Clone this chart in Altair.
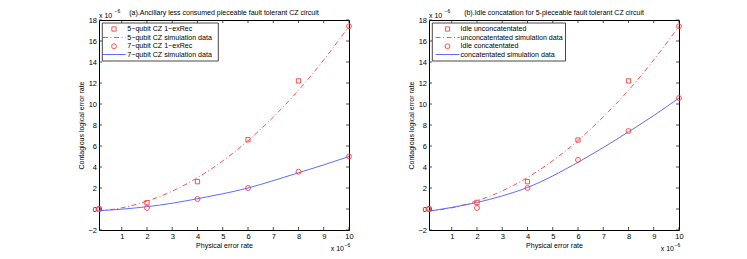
import altair as alt
import pandas as pd

# ---------------- data ----------------
x_ticks = [1, 2, 3, 4, 5, 6, 7, 8, 9, 10]
y_ticks = [-2, 0, 2, 4, 6, 8, 10, 12, 14, 16, 18]

rec_x = [0.1, 2, 4, 6, 8, 10]
five_qubit_rec = [0.0, 0.6, 2.6, 6.6, 12.2, 17.4]
seven_qubit_rec = [0.0, 0.1, 0.95, 2.0, 3.55, 5.0]
idle_unconcat = [0.0, 0.63, 2.6, 6.57, 12.2, 17.4]
idle_concat = [0.0, 0.1, 2.0, 4.67, 7.43, 10.57]

sim_x = [0.1, 1, 2, 3, 4, 5, 6, 7, 8, 9, 10]
five_qubit_sim = [-0.19, 0.11, 0.75, 1.7, 2.98, 4.58, 6.5, 8.75, 11.3, 14.2, 17.4]
seven_qubit_sim = [-0.15, -0.02, 0.22, 0.55, 0.98, 1.45, 2.0, 2.7, 3.45, 4.2, 5.0]
unconcat_sim = [-0.19, 0.11, 0.78, 1.72, 3.0, 4.6, 6.52, 8.77, 11.3, 14.2, 17.4]
concat_sim = [-0.2, 0.15, 0.62, 1.25, 2.05, 3.15, 4.45, 5.85, 7.35, 8.9, 10.57]

title_a = "(a).Ancillary less consumed pieceable fault tolerant CZ circuit"
title_b = "(b).Idle concatation for 5-pieceable fault tolerant CZ circuit"
legend_a = ["5\u2212qubit CZ 1\u2212exRec", "5\u2212qubit CZ simulation data",
            "7\u2212qubit CZ 1\u2212exRec", "7\u2212qubit CZ simulation data"]
legend_b = ["Idle unconcatentated", "unconcatentated simulation data",
            "Idle concatentated", "concatentated simulation data"]
x_title = "Physical error rate"
y_title = "Contagious logical error rate"
exp_base = "x 10"
exp_power = "\u22126"

# ---------------- style ----------------
W, H = 250, 210
FONT = "Liberation Sans"
RED = "#ff3b3b"
BLUE = "#4a5cff"
DASHDOT = [5, 2.5, 1, 2.5]


def panel(title, sq_vals, circ_vals, red_curve, blue_curve, labels, lg):
    xs = alt.Scale(domain=[0.1, 10], nice=False, zero=False)
    ys = alt.Scale(domain=[-2, 18], nice=False, zero=False)
    xenc = alt.X("x:Q", scale=xs,
                 axis=alt.Axis(values=x_ticks, title=x_title, labelPadding=2.5,
                               titlePadding=1.5, labelFlush=False))
    yenc = alt.Y("y:Q", scale=ys,
                 axis=alt.Axis(values=y_ticks, title=y_title, labelPadding=2.5,
                               titlePadding=3))

    sq_df = pd.DataFrame({"x": rec_x, "y": sq_vals})
    ci_df = pd.DataFrame({"x": rec_x, "y": circ_vals})
    red_df = pd.DataFrame({"x": sim_x, "y": red_curve})
    blue_df = pd.DataFrame({"x": sim_x, "y": blue_curve})

    layers = []
    layers.append(alt.Chart(red_df).mark_line(color=RED, strokeDash=DASHDOT, strokeWidth=0.9,
                                              interpolate="natural").encode(x=xenc, y=yenc))
    layers.append(alt.Chart(blue_df).mark_line(color=BLUE, strokeWidth=0.9,
                                               interpolate="natural").encode(x=xenc, y=yenc))
    layers.append(alt.Chart(sq_df).transform_filter("datum.x < 10").mark_point(
        shape="square", size=18, filled=False, color=RED, strokeWidth=0.9, opacity=1
    ).encode(x=xenc, y=yenc))
    layers.append(alt.Chart(sq_df).transform_filter("datum.x >= 10").mark_point(
        shape="circle", size=24, filled=False, color=RED, strokeWidth=0.9, opacity=1
    ).encode(x=xenc, y=yenc))
    layers.append(alt.Chart(ci_df).mark_point(
        shape="circle", size=24, filled=False, color=RED, strokeWidth=0.9, opacity=1
    ).encode(x=xenc, y=yenc))

    # inward ticks on all four sides
    xt = pd.DataFrame({"x": x_ticks})
    yt = pd.DataFrame({"y": y_ticks})
    tk = dict(color="#222", strokeWidth=0.8)
    layers.append(alt.Chart(xt).mark_rule(**tk).encode(x=xenc, y=alt.value(0), y2=alt.value(3)))
    layers.append(alt.Chart(xt).mark_rule(**tk).encode(x=xenc, y=alt.value(H - 3), y2=alt.value(H)))
    layers.append(alt.Chart(yt).mark_rule(**tk).encode(y=yenc, x=alt.value(0), x2=alt.value(3)))
    layers.append(alt.Chart(yt).mark_rule(**tk).encode(y=yenc, x=alt.value(W - 3), x2=alt.value(W)))

    # title and exponent labels
    one = pd.DataFrame({"t": [title]})
    layers.append(alt.Chart(one).mark_text(fontSize=7, baseline="middle", align="center",
                                           font=FONT, color="black").encode(
        text="t:N", x=alt.value(W / 2), y=alt.value(-7.5)))
    eb = pd.DataFrame({"t": [exp_base]})
    ep = pd.DataFrame({"t": [exp_power]})
    layers.append(alt.Chart(eb).mark_text(fontSize=7, align="left", baseline="alphabetic",
                                          font=FONT, color="black").encode(
        text="t:N", x=alt.value(0), y=alt.value(-2.5)))
    layers.append(alt.Chart(ep).mark_text(fontSize=5, align="left", baseline="alphabetic",
                                          font=FONT, color="black").encode(
        text="t:N", x=alt.value(15.5), y=alt.value(-7)))
    layers.append(alt.Chart(eb).mark_text(fontSize=7, align="right", baseline="alphabetic",
                                          font=FONT, color="black").encode(
        text="t:N", x=alt.value(W - 5), y=alt.value(H + 21)))
    layers.append(alt.Chart(ep).mark_text(fontSize=5, align="left", baseline="alphabetic",
                                          font=FONT, color="black").encode(
        text="t:N", x=alt.value(W - 4.5), y=alt.value(H + 16.5)))

    # legend box
    box = pd.DataFrame({"t": [""]})
    layers.append(alt.Chart(box).mark_rect(fill="white", stroke="#333", strokeWidth=0.9).encode(
        x=alt.value(3.3), x2=alt.value(lg["right"]), y=alt.value(3), y2=alt.value(41)))
    rows = [9, 17.5, 26.2, 34.5]
    for i, lbl in enumerate(labels):
        yy = rows[i]
        if i == 0:
            layers.append(alt.Chart(box).mark_point(shape="square", size=18, filled=False, color=RED,
                                                    strokeWidth=0.9, opacity=1).encode(
                x=alt.value(lg["sym"]), y=alt.value(yy)))
        elif i == 2:
            layers.append(alt.Chart(box).mark_point(shape="circle", size=24, filled=False, color=RED,
                                                    strokeWidth=0.9, opacity=1).encode(
                x=alt.value(lg["sym"]), y=alt.value(yy)))
        elif i == 1:
            layers.append(alt.Chart(box).mark_rule(color=RED, strokeDash=DASHDOT, strokeWidth=0.9).encode(
                x=alt.value(lg["l0"]), x2=alt.value(lg["l1"]), y=alt.value(yy)))
        else:
            layers.append(alt.Chart(box).mark_rule(color=BLUE, strokeWidth=0.9).encode(
                x=alt.value(lg["l0"]), x2=alt.value(lg["l1"]), y=alt.value(yy)))
        ld = pd.DataFrame({"t": [lbl]})
        layers.append(alt.Chart(ld).mark_text(fontSize=7.1, align="left", baseline="middle",
                                              font=FONT, color="black").encode(
            text="t:N", x=alt.value(lg["text"]), y=alt.value(yy)))

    return alt.layer(*layers).properties(width=W, height=H)


left = panel(title_a, five_qubit_rec, seven_qubit_rec, five_qubit_sim, seven_qubit_sim, legend_a,
             {"right": 119.3, "sym": 15, "l0": 4, "l1": 26.6, "text": 28.3})
right = panel(title_b, idle_unconcat, idle_concat, unconcat_sim, concat_sim, legend_b,
              {"right": 136.5, "sym": 18.5, "l0": 6.5, "l1": 30.5, "text": 31.5})

chart = alt.hconcat(left, right, spacing=80, bounds="flush").properties(
    padding={"left": 69, "top": 0, "right": 5, "bottom": 0},
    background="white",
).configure_view(stroke="black", strokeWidth=1).configure_axis(
    ticks=False, tickSize=0, domain=False, grid=False,
    labelFont=FONT, titleFont=FONT, labelFontSize=7.5, titleFontSize=7,
    titleFontWeight="normal", labelColor="black", titleColor="black"
)

chart.save("out.html", embed_options={"renderer": "svg", "actions": False})
